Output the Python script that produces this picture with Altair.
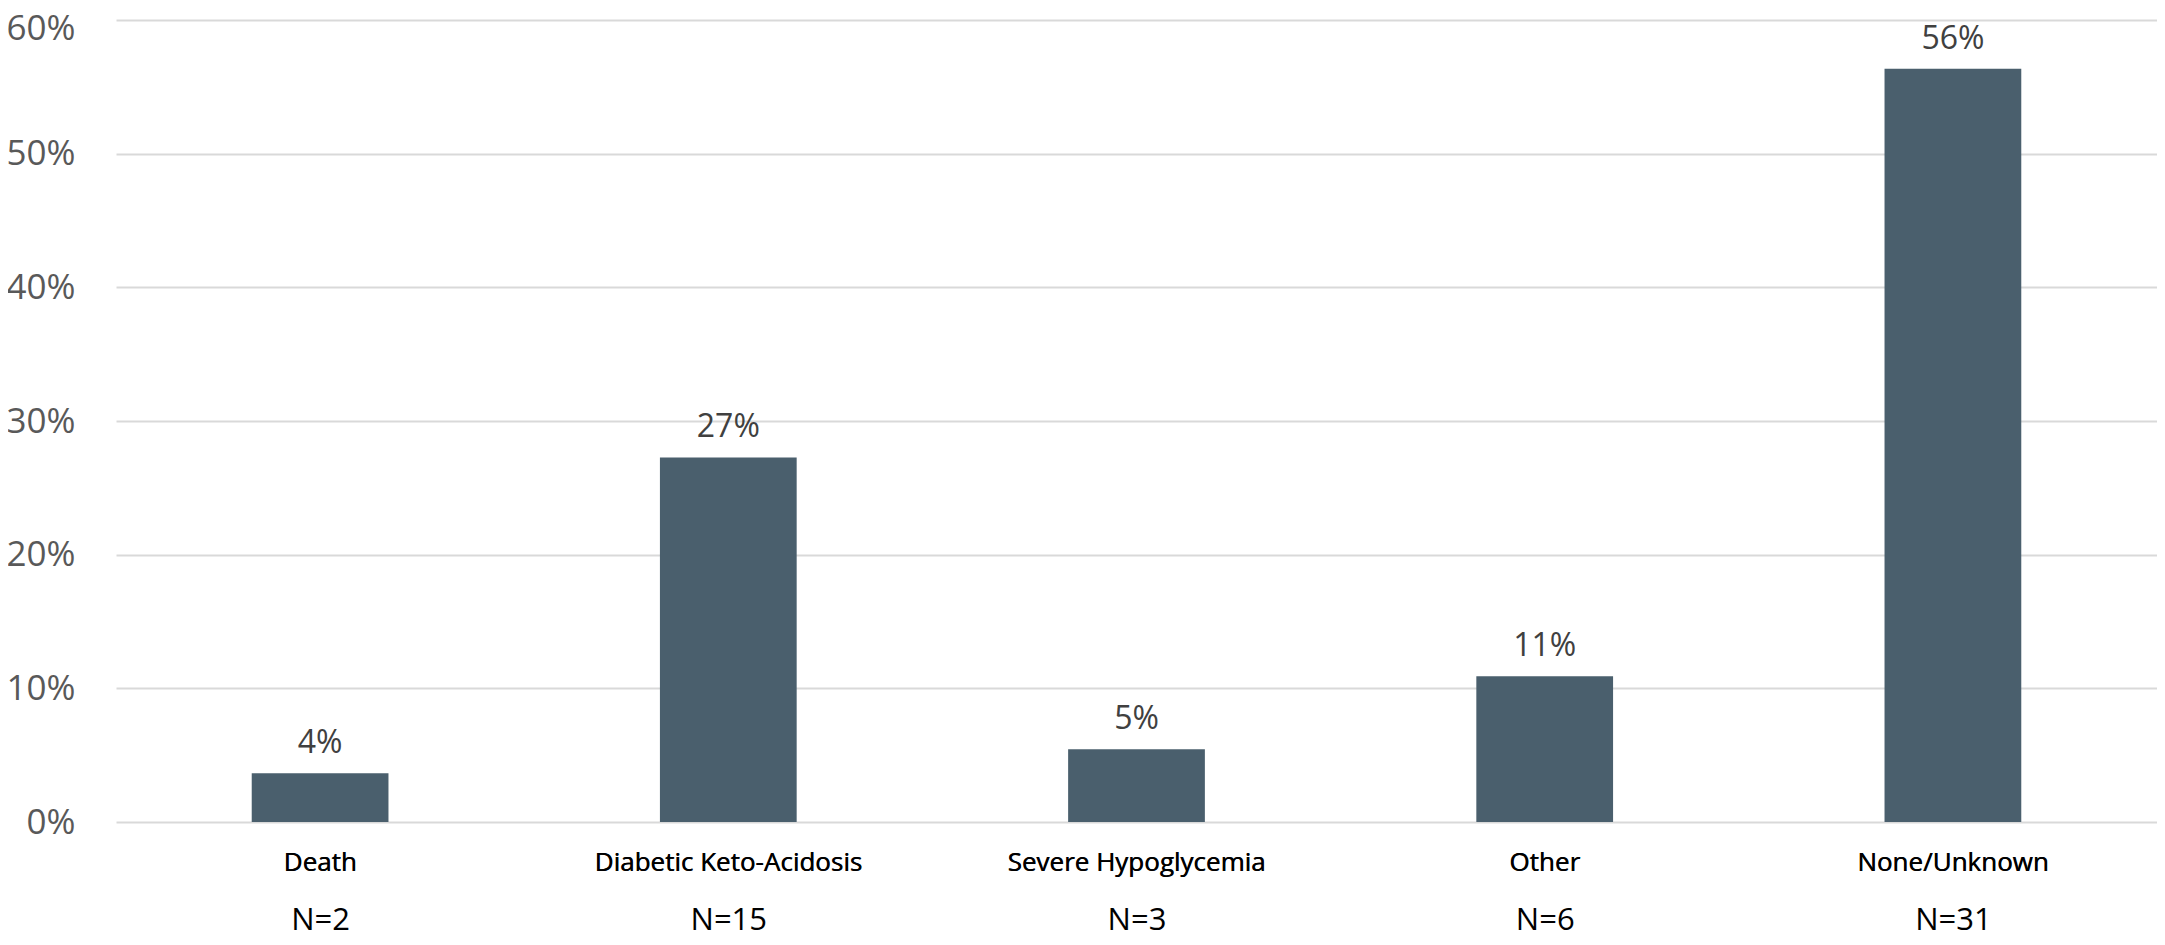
import altair as alt
import pandas as pd

categories = ["Death", "Diabetic Keto-Acidosis", "Severe Hypoglycemia", "Other", "None/Unknown"]
shares = [0.0364, 0.2727, 0.0545, 0.1091, 0.5636]
n_labels = ["N=2", "N=15", "N=3", "N=6", "N=31"]
y_ticks = [0, 0.1, 0.2, 0.3, 0.4, 0.5, 0.6]

df = pd.DataFrame({"cat": categories, "share": shares, "nlab": n_labels})

FONT = "Open Sans"
BAR = "#4a5f6d"

y_enc = alt.Y(
    "share:Q",
    scale=alt.Scale(domain=[0, 0.6], nice=False),
    title=None,
    axis=alt.Axis(
        values=y_ticks, format=".0%", ticks=False, domain=False,
        grid=True, gridColor="#d9d9d9", gridWidth=2,
        labelFont=FONT, labelFontSize=35, labelColor="#595959", labelPadding=41,
        labelOffset={"condition": {"test": "datum.value >= 0.59", "value": 8}, "value": 0},
    ),
)

x_enc = alt.X(
    "cat:N", sort=categories, title=None,
    scale=alt.Scale(paddingInner=0.665, paddingOuter=0.3325),
    axis=alt.Axis(
        orient="bottom", ticks=False, domain=False, grid=False, labelAngle=0,
        labelLimit=0,
        labelFont=FONT, labelFontSize=26, labelColor="#000000", labelPadding=27,
    ),
)

bars = alt.Chart(df).mark_bar(color=BAR).encode(x=x_enc, y=y_enc)

labels = alt.Chart(df).mark_text(
    dy=-20, baseline="alphabetic", font=FONT, fontSize=32, color="#404040"
).encode(x=x_enc, y=y_enc, text=alt.Text("share:Q", format=".0%"))

n_axis = alt.Chart(df).mark_point(opacity=0).encode(
    x=alt.X(
        "nlab:N", sort=n_labels, title=None,
        scale=alt.Scale(paddingInner=0.665, paddingOuter=0.3325),
        axis=alt.Axis(
            orient="bottom", ticks=False, domain=False, grid=False, labelAngle=0,
            labelLimit=0,
            labelFont=FONT, labelFontSize=31, labelColor="#000000", labelPadding=83,
        ),
    ),
    y=y_enc,
)

chart = alt.layer(bars, labels, n_axis).resolve_scale(x="independent").resolve_axis(x="independent").properties(
    width=2041, height=802,
    autosize="none",
    padding={"left": 108, "top": 12, "right": 0, "bottom": 115},
).configure_view(stroke=None)

chart.save("out.html", embed_options={"renderer": "svg", "actions": False})
